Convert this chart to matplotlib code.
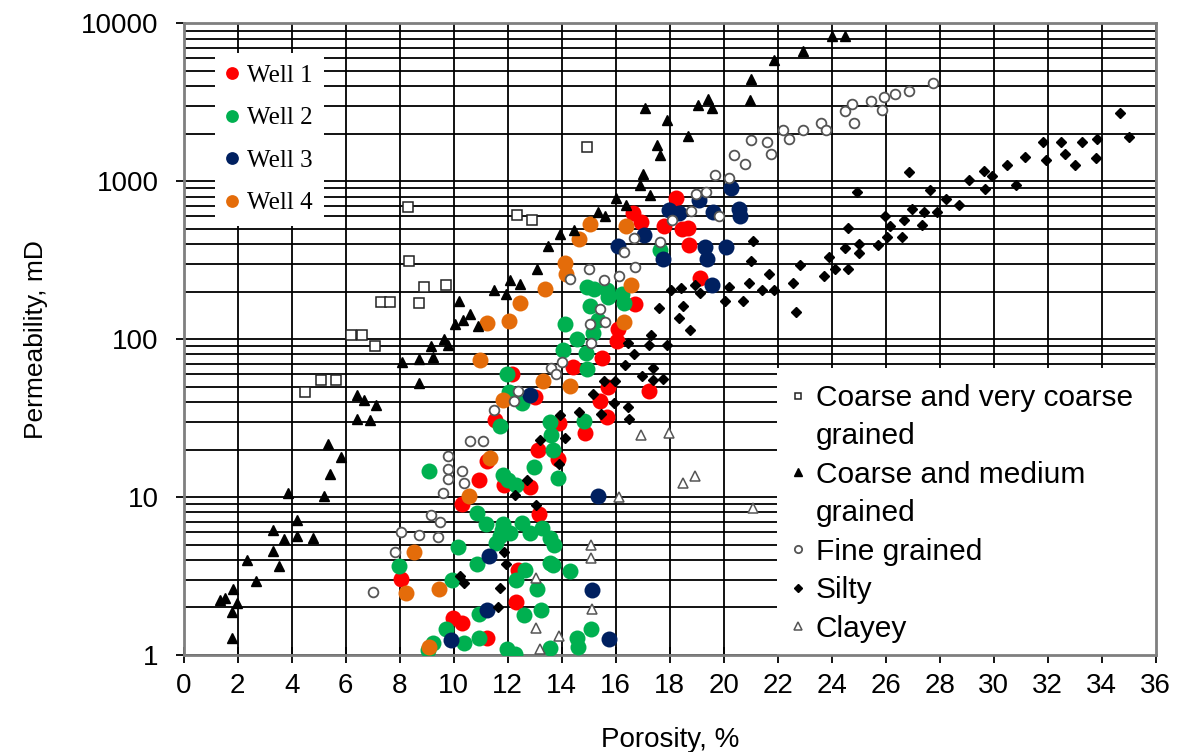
import matplotlib
matplotlib.use("Agg")
import matplotlib.pyplot as plt
from matplotlib.lines import Line2D
from matplotlib.patches import Rectangle
from matplotlib.ticker import LogLocator, NullFormatter

# --- sandstone classes (porosity %, permeability mD) ---
cvc_por = [4.5, 5.1, 5.65, 6.2, 6.6, 7.1, 7.3, 7.65, 8.3, 8.35, 8.7, 8.9, 9.7, 12.35, 12.9, 14.95]
cvc_perm = [46, 55, 55, 107, 107, 91, 173, 173, 690, 313, 169, 215, 219, 615, 567, 1640]

cm_por = [1.36, 1.54, 1.83, 1.98, 1.79, 1.81, 2.35, 2.67, 3.3, 3.3, 3.7, 3.54, 3.86, 4.2, 4.2, 4.78,
          5.2, 5.35, 5.84, 5.41, 6.42, 6.67, 7.12, 6.42, 6.91, 8.09, 8.73, 9.22, 9.17, 9.63, 9.79, 8.73,
          10.2, 10.62, 10.35, 10.04, 10.9, 11.5, 11.94, 12.08, 12.46, 13.07, 13.48, 13.92, 14.47,
          15.34, 15.59, 16.0, 16.37, 16.9, 17.01, 17.26,
          17.08, 17.52, 17.65, 17.89, 18.67, 19.06, 19.41, 19.56, 20.97, 21.02, 21.86, 22.95, 24.0, 24.5]
cm_perm = [2.23, 2.28, 2.61, 2.13, 1.88, 1.29, 4.0, 2.94, 4.56, 6.2, 5.46, 3.66, 10.6, 7.2, 5.7, 5.5,
           10.1, 21.7, 18, 13.9, 44.5, 41, 38.5, 31.3, 30.6, 72, 75, 77, 90, 100, 92, 53,
           175, 145, 133, 125, 122, 204, 194, 238, 224, 279, 391, 464, 493,
           635, 600, 783, 711, 953, 1119, 823,
           2930, 1690, 1460, 2430, 1920, 3050, 3315, 2900, 3250, 4450, 5870, 6720, 8320, 8320]

fine_por = [7.0, 7.81, 8.06, 8.7, 9.41, 9.16, 9.48, 9.6, 9.79, 9.79, 9.79, 10.31, 10.37, 10.62, 11.07,
            11.5, 12.4, 12.25, 13.6, 13.8, 14.0, 14.31, 15.02, 15.05, 15.08, 15.43, 15.59, 15.57, 16.14,
            16.29, 16.66, 16.72, 17.63, 18.09, 18.77, 18.99, 19.36, 19.66, 19.84, 20.2, 20.38, 20.77,
            21.02, 21.6, 21.74, 22.19, 22.43, 22.95, 23.59, 23.79, 24.5, 24.76, 24.83, 25.47, 25.85,
            25.94, 26.35, 26.86, 27.75]
fine_perm = [2.51, 4.5, 6.04, 5.73, 5.6, 7.7, 6.95, 10.6, 13.1, 15.1, 18.3, 14.6, 12.2, 22.8, 22.8,
             35.8, 46.7, 40.4, 66, 60, 72, 240, 279, 125, 95, 155, 129, 238, 250,
             355, 436, 285, 410, 571, 646, 836, 851, 1102, 601, 1050, 1473, 1293,
             1815, 1770, 1496, 2120, 1850, 2120, 2335, 2100, 2800, 3090, 2335, 3230, 2840,
             3410, 3565, 3740, 4180]

silty_por = [11.64, 10.23, 10.39, 11.7, 11.85, 11.95, 12.26, 13.05, 12.71, 13.89, 13.19, 14.14, 13.92,
             14.64, 15.44, 15.17, 15.92, 16.44, 16.5, 15.55, 15.98, 16.35, 16.66, 16.44, 16.99, 17.38,
             17.75, 17.38, 17.25, 17.9, 17.3, 18.74, 18.34, 18.49, 17.59, 18.03, 18.42, 18.94, 19.13,
             20.03, 20.72, 20.2, 20.94, 21.02, 21.09, 21.41, 21.88, 22.55, 21.69, 22.69, 22.83, 23.73,
             24.11, 24.61, 23.9, 24.5, 25.01, 25.01, 25.71, 24.61, 24.94, 26.04, 26.61, 26.15, 25.97,
             27.36, 26.68, 26.96, 27.42, 27.89, 27.63, 28.22, 28.72, 26.86, 29.1, 29.67, 29.93, 29.63,
             30.84, 30.5, 31.17, 31.92, 31.81, 32.49, 32.62, 33.02, 33.27, 33.8, 33.84, 34.68, 35.01]
silty_perm = [2.01, 3.15, 2.86, 2.66, 4.5, 3.77, 10.3, 8.85, 12.9, 16.1, 22.9, 23.8, 33,
              34.7, 33.5, 45, 39.5, 37.3, 31, 54.2, 54.2, 68.4, 80, 94.8, 58.6, 55,
              55.6, 65.3, 91.6, 91.6, 106, 115, 137, 162, 158, 204, 210, 219, 195,
              175, 175, 214, 226, 313, 421, 204, 204, 226, 258, 149, 293, 251,
              279, 279, 331, 376, 352, 402, 393, 507, 857, 445, 445, 520, 601,
              525, 565, 668, 640, 640, 877, 773, 712, 1140, 1013, 895, 1076, 1156,
              940, 1262, 1418, 1371, 1763, 1763, 1496, 1262, 1763, 1404, 1850, 2700, 1900]

clay_por = [13.05, 13.05, 13.89, 13.19, 15.1, 15.1, 15.13, 16.13, 16.93, 17.96, 18.51, 18.92, 21.07]
clay_perm = [3.07, 1.49, 1.31, 1.09, 5.0, 4.1, 1.95, 10.0, 24.7, 25.3, 12.3, 13.6, 8.5]

# --- core data from the four wells ---
w1_por = [8.04, 9.99, 10.3, 11.25, 12.3, 12.4, 10.3, 10.92, 11.25, 11.88, 11.54, 12.84, 13.12, 13.17,
          13.02, 12.15, 13.86, 13.89, 14.85, 15.42, 15.66, 15.73, 15.49, 14.41, 16.04, 16.07, 17.22,
          16.73, 16.64, 16.92, 17.77, 18.25, 18.44, 18.67, 18.73, 19.13]
w1_perm = [3.04, 1.71, 1.59, 1.29, 2.18, 3.43, 9.0, 12.9, 16.9, 12.0, 30.8, 11.5, 19.8, 7.76,
           43, 60, 17.5, 29.6, 25.4, 40.7, 32, 50, 76, 67, 97, 116, 47,
           167, 625, 553, 520, 785, 495, 503, 393, 243]

w2_por = [17.63, 14.93, 15.2, 15.67, 15.73, 16.25, 16.29, 15.05, 15.34, 14.13, 15.15, 14.56, 14.04,
          14.9, 14.93, 11.96, 12.06, 12.52, 13.55, 14.82, 11.72, 13.62, 13.68, 12.96, 13.87, 9.09,
          11.82, 12.03, 12.32, 10.88, 11.2, 11.82, 11.91, 11.72, 12.07, 11.57, 12.53, 12.84, 13.27,
          13.58, 13.71, 10.17, 10.85, 13.58, 13.68, 14.3, 12.63, 12.32, 13.09, 7.98, 9.92, 10.95,
          12.59, 13.25, 9.71, 10.39, 10.95, 11.97, 12.28, 13.56, 14.58, 14.6, 15.1, 9.24, 9.05, 11.79]
w2_perm = [369, 214, 209, 204, 185, 194, 169, 163, 133, 125, 109, 100, 85.5,
           81.5, 64.6, 60.3, 46.5, 39.3, 30, 30.4, 28, 24.7, 19.8, 15.4, 13.3, 14.6,
           13.7, 12.8, 12.0, 7.95, 6.8, 6.8, 6.1, 5.65, 5.9, 5.1, 6.9, 5.9, 6.4,
           5.5, 5.0, 4.8, 3.77, 3.83, 3.7, 3.42, 3.43, 2.97, 2.61, 3.64, 3.0, 1.82,
           1.8, 1.93, 1.47, 1.19, 1.28, 1.09, 1.01, 1.1, 1.29, 1.13, 1.46, 1.19, 1.08, 6.2]

w3_por = [9.9, 11.23, 11.29, 12.83, 15.11, 15.36, 15.75, 16.07, 17.03, 17.75, 17.96, 18.34, 19.1,
          19.6, 19.3, 19.38, 19.56, 20.08, 20.27, 20.55, 20.6]
w3_perm = [1.25, 1.93, 4.26, 44, 2.59, 10.1, 1.27, 388, 454, 320, 662, 625, 766,
           640, 385, 320, 219, 385, 908, 671, 601]

w4_por = [8.25, 8.52, 9.09, 9.45, 10.58, 11.33, 10.97, 11.23, 11.84, 12.04, 12.47, 13.32, 13.4,
          14.31, 14.11, 14.15, 14.65, 15.05, 16.39, 16.56, 16.29]
w4_perm = [2.47, 4.5, 1.13, 2.61, 10.1, 17.8, 74, 126, 41.2, 131, 169, 54.7, 209,
           50.6, 305, 258, 430, 538, 519, 219, 128]

well_names = ['Well 1', 'Well 2', 'Well 3', 'Well 4']
well_colors = ['#ff0000', '#00b050', '#002060', '#e46c0a']

sans = 'Liberation Sans'

fig = plt.figure(figsize=(11.77, 7.52), dpi=100)
ax = fig.add_axes([0.156, 0.129, 0.826, 0.84])

wells = []
for por, perm, c, name in zip([w1_por, w2_por, w3_por, w4_por],
                              [w1_perm, w2_perm, w3_perm, w4_perm],
                              well_colors, well_names):
    ln, = ax.plot(por, perm, 'o', ms=11.5, mfc=c, mec=c, mew=0, label=name, zorder=3)
    wells.append(ln)

h_cvc, = ax.plot(cvc_por, cvc_perm, 's', ms=6.5, mfc='white', mec='#222222', mew=1.1, zorder=4)
h_cm, = ax.plot(cm_por, cm_perm, '^', ms=7, color='black', zorder=4)
h_fine, = ax.plot(fine_por, fine_perm, 'o', ms=7, mfc='white', mec='#555555', mew=1.3, zorder=4)
h_silty, = ax.plot(silty_por, silty_perm, 'D', ms=5.5, color='black', zorder=4)
h_clay, = ax.plot(clay_por, clay_perm, '^', ms=7, mfc='white', mec='#555555', mew=1.1, zorder=4)

ax.set_yscale('log')
ax.set_xlim(0, 36)
ax.set_ylim(1, 10000)
ax.set_xticks(range(0, 37, 2))
ax.set_yticks([1, 10, 100, 1000, 10000])
ax.set_yticklabels(['1', '10', '100', '1000', '10000'])
ax.yaxis.set_minor_locator(LogLocator(base=10, subs=range(2, 10)))
ax.yaxis.set_minor_formatter(NullFormatter())

ax.set_axisbelow(True)
ax.grid(True, which='major', axis='both', color='black', lw=1.3)
ax.grid(True, which='minor', axis='y', color='black', lw=1.3)
for s in ax.spines.values():
    s.set_color('#7f7f7f')
    s.set_linewidth(2)

ax.tick_params(axis='x', direction='inout', length=12, width=1.3, pad=7)
ax.tick_params(axis='y', which='major', direction='out', length=6, width=1.3, pad=12)
ax.tick_params(axis='y', which='minor', length=0)
for t in ax.get_xticklabels():
    t.set_family(sans)
    t.set_fontsize(20)
for t in ax.get_yticklabels():
    t.set_family(sans)
    t.set_fontsize(20)

ax.set_xlabel('Porosity, %', family=sans, fontsize=20, labelpad=20)
ax.set_ylabel('Permeability, mD', family=sans, fontsize=19, labelpad=24)

leg1 = ax.legend(handles=wells, loc='upper left', bbox_to_anchor=(0.032, 0.953),
                 borderaxespad=0, prop={'family': 'Liberation Serif', 'size': 18},
                 markerscale=0.8, handlelength=0.5, handletextpad=0.35, labelspacing=0.8,
                 borderpad=0.45, frameon=True, fancybox=False, facecolor='white',
                 edgecolor='none', framealpha=1)
ax.add_artist(leg1)

# white panel behind the class key (hides the grid in the lower right)
ax.add_patch(Rectangle((0.61, 0), 0.39, 0.454, transform=ax.transAxes,
                       facecolor='white', edgecolor='none', zorder=1))

blank = Line2D([], [], ls='none', marker='')
ax.legend([h_cvc, blank, h_cm, blank, h_fine, h_silty, h_clay],
          ['Coarse and very coarse', 'grained', 'Coarse and medium', 'grained',
           'Fine grained', 'Silty', 'Clayey'],
          loc='upper left', bbox_to_anchor=(0.632, 0.429), borderaxespad=0,
          prop={'family': sans, 'size': 21.5}, markerscale=0.75,
          handlelength=0, handletextpad=0.6, labelspacing=0.35, borderpad=0,
          frameon=False)

fig.savefig('out.png', dpi=100)
